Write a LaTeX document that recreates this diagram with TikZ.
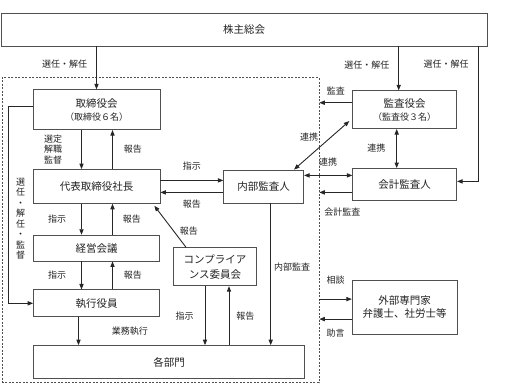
\documentclass[tikz,border=0pt]{standalone}
\usepackage{fontspec}
\setmainfont{Noto Sans CJK JP}
\usepackage{tikz}
\usetikzlibrary{arrows.meta, positioning, calc}
\definecolor{myline}{RGB}{80,80,80}
\definecolor{mytext}{RGB}{35,35,35}
\definecolor{myframe}{RGB}{80,80,80}
\tikzset{
  box/.style={rectangle, draw=myline, fill=white, align=center,
    inner sep=2pt, font=\fontsize{10.5}{15}\selectfont, text=mytext, line width=0.7pt},
  lbl/.style={font=\fontsize{9}{10.5}\selectfont, text=mytext, inner sep=1pt, align=center},
  frame/.style={rectangle, draw=myframe, dash pattern=on 2pt off 1.5pt,
    line width=0.6pt, inner sep=0pt},
  arrow/.style={-{Triangle[length=5.5pt,width=4.2pt]}, line width=0.9pt, color=black!85},
  dblarrow/.style={{Triangle[length=5.5pt,width=4.2pt]}-{Triangle[length=5.5pt,width=4.2pt]},
    line width=0.9pt, color=black!85}
}

\begin{document}
\begin{tikzpicture}[node distance=30pt and 40pt]
  \useasboundingbox (0,0) rectangle (511pt,-386pt);

  % Nodes
  \node[box, minimum width=486pt, minimum height=33pt] (gm) at (244pt,-29.5pt) {株主総会};
  \node[frame, minimum width=317pt, minimum height=305pt,
    below right=31pt and 1pt of gm.south west] (frame) {};

  \node[box, minimum width=127pt, minimum height=40pt,
    below right=43pt and 32pt of gm.south west] (bod)
    {取締役会\\[-2pt]{\fontsize{9}{11}\selectfont （取締役６名）}};
  \node[box, minimum width=127pt, minimum height=34pt, below=39pt of bod] (ceo) {代表取締役社長};
  \node[box, minimum width=126pt, minimum height=26pt, below=31pt of ceo] (mtg) {経営会議};
  \node[box, minimum width=126pt, minimum height=27pt, below=28pt of mtg] (exo) {執行役員};
  \node[box, minimum width=271pt, minimum height=33pt,
    below right=28pt and 0pt of exo.south west] (dept) {各部門};

  \node[box, minimum width=80pt, minimum height=33pt, right=63pt of ceo] (ia) {内部監査人};
  \node[box, minimum width=83pt, minimum height=38pt,
    above right=59pt and 140pt of dept.north west] (comp) {コンプライア\\ンス委員会};

  \node[box, minimum width=104pt, minimum height=38pt, right=192pt of bod] (asb)
    {監査役会\\[-2pt]{\fontsize{9}{11}\selectfont （監査役３名）}};
  \node[box, minimum width=104pt, minimum height=32pt, below=39pt of asb] (acc) {会計監査人};
  \node[box, minimum width=105pt, minimum height=54pt, below=79pt of acc] (ext)
    {外部専門家\\[-2pt]弁護士、社労士等};

  % Paths from the shareholders
  \draw[arrow] (gm.south -| bod.north) -- (bod.north)
    node[lbl, pos=0.42, left=8pt] {選任・解任};
  \coordinate (asbin) at ([xshift=-6pt]asb.north);
  \draw[arrow] (gm.south -| asbin) -- (asbin)
    node[lbl, pos=0.42, left=8pt] {選任・解任};
  \coordinate (accin) at ([xshift=21pt,yshift=3pt]acc.east);
  \draw[arrow] (gm.south -| accin) |- ([yshift=3pt]acc.east)
    node[lbl, pos=0.065, left=8pt] {選任・解任};

  % Executive chain
  \draw[arrow] ([xshift=-15pt]bod.south) -- ([xshift=-15pt]ceo.north)
    node[lbl, midway, left=18pt] {選定\\解職\\監督};
  \draw[arrow] ([xshift=16pt]ceo.north) -- ([xshift=16pt]bod.south)
    node[lbl, midway, right=10pt] {報告};
  \draw[arrow] ([xshift=-15pt]ceo.south) -- ([xshift=-15pt]mtg.north)
    node[lbl, midway, left=14pt] {指示};
  \draw[arrow] ([xshift=16pt]mtg.north) -- ([xshift=16pt]ceo.south)
    node[lbl, midway, right=9pt] {報告};
  \draw[arrow] ([xshift=-15pt]mtg.south) -- ([xshift=-15pt]exo.north)
    node[lbl, midway, left=14pt] {指示};
  \draw[arrow] ([xshift=16pt]exo.north) -- ([xshift=16pt]mtg.south)
    node[lbl, midway, right=10pt] {報告};
  \draw[arrow] ([xshift=-18pt]exo.south) -- ([xshift=-18pt]exo.south |- dept.north)
    node[lbl, midway, right=32pt] {業務執行};
  \draw[arrow] ([yshift=3pt]bod.west) -- ++(-24pt,0) |- (exo.west)
    node[lbl, pos=0.285, right=6pt] {選\\任\\・\\解\\任\\・\\監\\督};

  % Internal audit and compliance
  \draw[arrow] ([yshift=6pt]ceo.east) -- ([yshift=6pt]ceo.east -| ia.west)
    node[lbl, midway, above=9pt] {指示};
  \draw[arrow] ([yshift=-6pt]ceo.east -| ia.west) -- ([yshift=-6pt]ceo.east)
    node[lbl, midway, below=6pt] {報告};
  \draw[arrow] ([xshift=13pt]comp.north west) -- ([xshift=-6pt,yshift=-2pt]ceo.south east)
    node[lbl, pos=0.4, right=5pt] {報告};
  \draw[arrow] ([xshift=-10pt]comp.south) -- ([xshift=-10pt]comp.south |- dept.north)
    node[lbl, midway, left=10pt] {指示};
  \draw[arrow] ([xshift=14pt]comp.south |- dept.north) -- ([xshift=14pt]comp.south)
    node[lbl, midway, right=6pt] {報告};
  \draw[arrow] ([xshift=7pt]ia.south) -- ([xshift=7pt]ia.south |- dept.north)
    node[lbl, pos=0.45, right=2pt] {内部監査};

  % Auditors
  \draw[arrow] ([yshift=7pt]asb.west) -- ([yshift=7pt]asb.west -| frame.east)
    node[lbl, midway, above=6pt] {監査};
  \draw[dblarrow] ([xshift=-3pt,yshift=8pt]asb.south west) -- ([xshift=-10pt]ia.north east)
    node[lbl, midway, above left=3pt] {連携};
  \draw[dblarrow] ([xshift=-8pt]asb.south) -- ([xshift=-8pt]acc.north)
    node[lbl, midway, left=10pt] {連携};
  \draw[dblarrow] ([yshift=9pt]acc.west -| ia.east) -- ([yshift=9pt]acc.west)
    node[lbl, midway, above=8pt] {連携};
  \draw[arrow] ([yshift=-8pt]acc.west) -- ([yshift=-8pt]acc.west -| frame.east)
    node[lbl, pos=0.3, below=14pt] {会計監査};

  % Outside experts
  \draw[arrow] ([yshift=8pt]ext.west -| frame.east) -- ([yshift=8pt]ext.west)
    node[lbl, midway, above=13pt] {相談};
  \draw[arrow] ([yshift=-12pt]ext.west) -- ([yshift=-12pt]ext.west -| frame.east)
    node[lbl, midway, below=8pt] {助言};
\end{tikzpicture}
\end{document}
